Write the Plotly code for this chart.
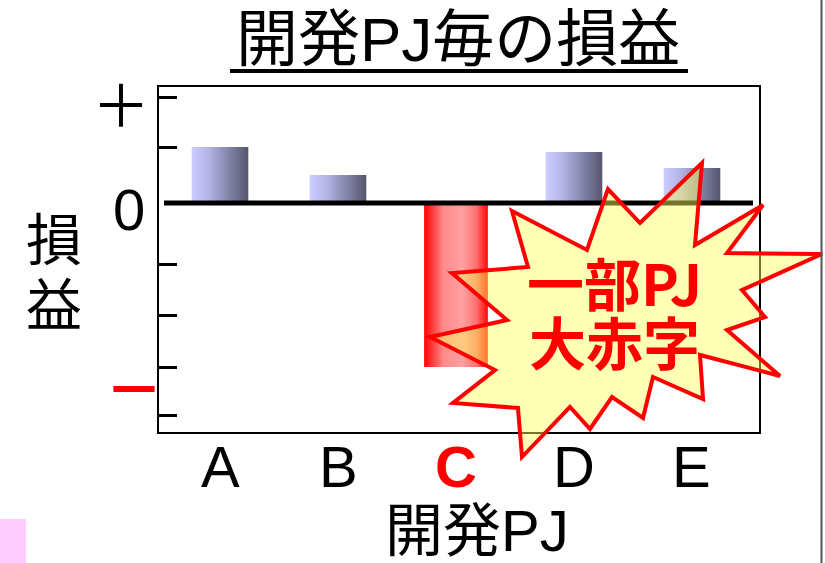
import plotly.graph_objects as go

# ---------------- data ----------------
categories = ["A", "B", "C", "D", "E"]
values = [1.12, 0.56, -3.28, 1.02, 0.70]          # profit / loss (arbitrary units)
bar_widths = [0.48, 0.48, 0.54, 0.48, 0.48]
minor_tick_vals = [2.12, 1.12, -1.22, -2.24, -3.28, -4.24]
y_label_vals = [2.02, 0.0, -3.66]
y_label_text = ["＋", "0", "<b>－</b>"]
y_range = [-4.58, 2.32]
x_range = [-0.517, 4.568]

title_text = "開発PJ毎の損益"
x_title = "開発PJ"
y_title_chars = ["損", "益"]
burst_lines = ["一部PJ", "大赤字"]

# ---------------- layout geometry ----------------
W, H = 825, 563
L, R, T, B = 159, 759, 87, 432          # plot box in pixels


def px(x):
    return (x - L) / (R - L)


def py(y):
    return (B - y) / (B - T)


JP = "Liberation Sans, Noto Sans CJK JP, sans-serif"

fig = go.Figure()

blue_scale = [[0, "#ccccff"], [0.3, "#b4b4e6"], [1, "#55556f"]]
red_scale = [[0, "#ff0000"], [0.3, "#ff8a8a"], [0.6, "#ffa0a0"], [0.82, "#ff7070"], [1, "#ff0808"]]

for i, (cat, v, w) in enumerate(zip(categories, values, bar_widths)):
    x0, x1 = i - w / 2, i + w / 2
    scale = red_scale if v < 0 else blue_scale
    fig.add_trace(go.Scatter(
        x=[x0, x1, x1, x0, x0], y=[0, 0, v, v, 0],
        mode="lines", line=dict(width=0), fill="toself",
        fillgradient=dict(type="horizontal", colorscale=scale, start=x0, stop=x1),
        hoverinfo="skip", showlegend=False,
    ))

fig.update_xaxes(
    range=x_range, showticklabels=False,
    showline=True, mirror=True, linecolor="#000", linewidth=2,
    showgrid=False, zeroline=False, ticks="",
)
fig.update_yaxes(
    range=y_range, showline=True, mirror=True, linecolor="#000", linewidth=2,
    showgrid=False, zeroline=False, showticklabels=False,
    tickvals=minor_tick_vals, ticks="inside", ticklen=18, tickwidth=3, tickcolor="#000",
)

shapes = []
# zero line
shapes.append(dict(type="line", xref="paper", yref="y", x0=px(164), x1=px(753), y0=0, y1=0,
                   line=dict(color="#000", width=5), layer="above"))
# starburst callout
burst = [(512, 211), (587, 250), (608, 189), (640, 223), (702, 163), (695, 245), (763, 205),
         (727, 253), (822, 254), (742, 290), (765, 317), (727, 330), (780, 376), (700, 355),
         (703, 399), (653, 377), (643, 418), (612, 397), (590, 429), (570, 407), (522, 457),
         (518, 408), (453, 403), (495, 370), (430, 337), (507, 320), (452, 273), (528, 267)]
path = "M " + " L ".join(f"{px(a):.4f},{py(b):.4f}" for a, b in burst) + " Z"
shapes.append(dict(type="path", xref="paper", yref="paper", path=path,
                   fillcolor="rgba(255,255,90,0.45)", line=dict(color="#ff0000", width=4),
                   layer="above"))
# title underline
shapes.append(dict(type="line", xref="paper", yref="paper", x0=px(230), x1=px(688),
                   y0=py(71), y1=py(71), line=dict(color="#000", width=4)))
# right vertical rule
shapes.append(dict(type="line", xref="paper", yref="paper", x0=px(821.5), x1=px(821.5),
                   y0=py(0), y1=py(563), line=dict(color="#555", width=2)))
# pink square
shapes.append(dict(type="rect", xref="paper", yref="paper", x0=px(0), x1=px(26),
                   y0=py(519), y1=py(563), fillcolor="#ffccff", line=dict(width=0)))

ann = []
ann.append(dict(text=title_text, xref="paper", yref="paper", x=px(458), y=py(40),
                xanchor="center", yanchor="middle", showarrow=False,
                font=dict(family=JP, size=62, color="#000")))
ann.append(dict(text=x_title, xref="paper", yref="paper", x=px(477), y=py(530),
                xanchor="center", yanchor="middle", showarrow=False,
                font=dict(family=JP, size=58, color="#000")))
# category labels
for i, c in enumerate(categories):
    if c == "C":
        txt, col = "<b>C</b>", "#ff0000"
    else:
        txt, col = c, "#000"
    ann.append(dict(text=txt, xref="x", yref="paper", x=i, y=py(466),
                    xanchor="center", yanchor="middle", showarrow=False,
                    font=dict(family="Liberation Sans", size=58, color=col)))
for ch, yy in zip(y_title_chars, [240, 305]):
    ann.append(dict(text=ch, xref="paper", yref="paper", x=px(54), y=py(yy),
                    xanchor="center", yanchor="middle", showarrow=False,
                    font=dict(family=JP, size=56, color="#000")))
lab_x = [121, 129, 134]
lab_col = ["#000", "#000", "#ff0000"]
lab_fam = ["Noto Sans CJK JP", "Liberation Sans", "Noto Sans CJK JP"]
for t, v, xx, col, fam in zip(y_label_text, y_label_vals, lab_x, lab_col, lab_fam):
    ann.append(dict(text=t, xref="paper", yref="y", x=px(xx), y=v,
                    xanchor="center", yanchor="middle", showarrow=False,
                    yshift=-6 if t == "0" else 0,
                    font=dict(family=fam, size=58, color=col)))
for t, yy in zip(burst_lines, [281, 340]):
    ann.append(dict(text=f"<b>{t}</b>", xref="paper", yref="paper", x=px(614), y=py(yy),
                    xanchor="center", yanchor="middle", showarrow=False,
                    font=dict(family="Noto Sans CJK JP", size=57, color="#ff0000")))

fig.update_layout(
    width=W, height=H, margin=dict(l=L, r=W - R, t=T, b=H - B),
    paper_bgcolor="#fff", plot_bgcolor="#fff",
    shapes=shapes, annotations=ann, showlegend=False,
)

fig.write_html("out.html")
